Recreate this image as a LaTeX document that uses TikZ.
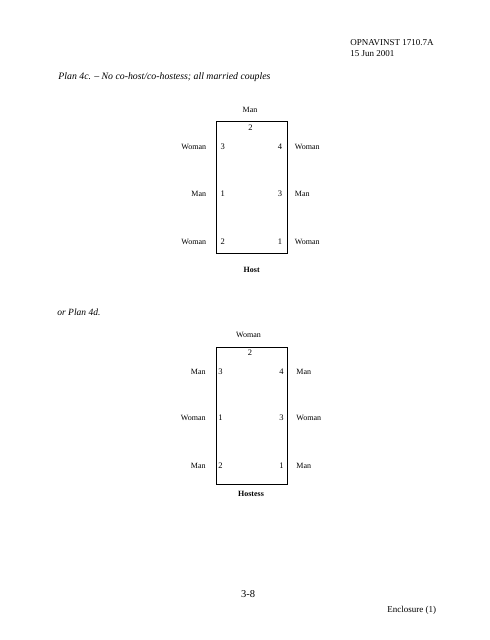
\documentclass[tikz,border=0pt]{standalone}
\usepackage{fontspec}
\setmainfont{Liberation Serif}
\usepackage{tikz}

\begin{document}
\begin{tikzpicture}[
		%Global config
		x=1pt, y=-1pt,
		line width=0.8pt,
		color = black,
		%Styles
		body/.style={
			inner sep=0pt,
			font=\fontsize{9}{11}\selectfont
		},
		seat/.style={
			inner sep=0pt,
			font=\fontsize{8}{9}\selectfont
		},
		num/.style={
			inner sep=0pt,
			font=\fontsize{8.5}{9}\selectfont
		},
		head/.style={
			inner sep=0pt,
			font=\fontsize{8}{9}\selectfont\bfseries
		},
		table/.style={
			line width=0.8pt,
			color=black
		}
		]
		
		\useasboundingbox (0,0) rectangle (490,640);
		
		% Page header
		\path (350,43) node[body, anchor=west] (doc) {OPNAVINST 1710.7A};
		\path (350,54) node[body, anchor=west] (date) {15 Jun 2001};
		\path (58,77) node[body, anchor=west, font=\fontsize{9.8}{11}\selectfont\itshape] (plana) {Plan 4c. -- No co-host/co-hostess; all married couples};
		
		% Plan 4c
		\draw[table] (216.7,121) rectangle (287.3,253);
		\path (250,110) node[seat] (aTop) {Man};
		\path (250.5,128) node[num] (aN2) {2};
		
		\path (206.5,147) node[seat, anchor=east] (aL1) {Woman};
		\path (222.7,147) node[num] (aNL1) {3};
		\path (280,147) node[num] (aNR1) {4};
		\path (294.5,147) node[seat, anchor=west] (aR1) {Woman};
		
		\path (206.5,194) node[seat, anchor=east] (aL2) {Man};
		\path (222.7,194) node[num] (aNL2) {1};
		\path (280,194) node[num] (aNR2) {3};
		\path (294.5,194) node[seat, anchor=west] (aR2) {Man};
		
		\path (206.5,241.5) node[seat, anchor=east] (aL3) {Woman};
		\path (222.7,241.5) node[num] (aNL3) {2};
		\path (280,241.5) node[num] (aNR3) {1};
		\path (294.5,241.5) node[seat, anchor=west] (aR3) {Woman};
		
		\path (251.7,270) node[head] (host) {Host};
		
		% Plan 4d
		\path (57,312) node[body, anchor=west, font=\fontsize{9.5}{11}\selectfont\itshape] (planb) {or Plan 4d.};
		
		\draw[table] (216.3,347) rectangle (287,484);
		\path (248.5,335) node[seat] (bTop) {Woman};
		\path (250,353) node[num] (bN2) {2};
		
		\path (206,372) node[seat, anchor=east] (bL1) {Man};
		\path (220.5,372) node[num] (bNL1) {3};
		\path (281.5,372) node[num] (bNR1) {4};
		\path (296,372) node[seat, anchor=west] (bR1) {Man};
		
		\path (206,418) node[seat, anchor=east] (bL2) {Woman};
		\path (220.5,418) node[num] (bNL2) {1};
		\path (281.5,418) node[num] (bNR2) {3};
		\path (296,418) node[seat, anchor=west] (bR2) {Woman};
		
		\path (206,466) node[seat, anchor=east] (bL3) {Man};
		\path (220.5,466) node[num] (bNL3) {2};
		\path (281.5,466) node[num] (bNR3) {1};
		\path (296,466) node[seat, anchor=west] (bR3) {Man};
		
		\path (251,494) node[head] (hostess) {Hostess};
		
		% Page footer
		\path (248,594) node[body, font=\fontsize{10.5}{12}\selectfont] (page) {3-8};
		\path (387,610) node[body, anchor=west] (encl) {Enclosure (1)};
	\end{tikzpicture}
\end{document}
